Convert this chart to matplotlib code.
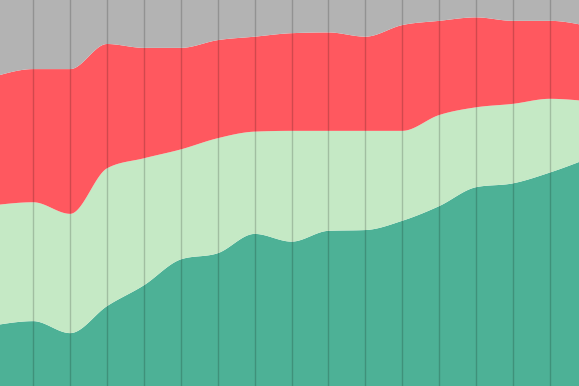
import numpy as np
import matplotlib
matplotlib.use("Agg")
import matplotlib.pyplot as plt

# Data (percent shares, 17 periods)
periods = list(range(17))
series_a = [15.8, 16.8, 13.7, 20.7, 26.1, 32.8, 34.4, 39.4, 37.4, 40.2, 40.4, 42.8, 46.6, 51.5, 52.5, 55.3, 58.8]
series_b = [31.1, 30.8, 30.9, 35.7, 32.9, 28.5, 29.8, 26.5, 28.7, 25.9, 25.7, 23.3, 23.6, 20.7, 20.6, 19.1, 15.0]
series_c = [33.4, 34.5, 37.5, 32.2, 28.6, 26.3, 25.4, 24.6, 25.3, 25.5, 24.4, 27.4, 24.4, 23.3, 21.5, 20.2, 19.5]
series_d = [19.7, 17.9, 17.9, 11.4, 12.4, 12.4, 10.4, 9.5, 8.6, 8.4, 9.5, 6.5, 5.4, 4.5, 5.4, 5.4, 6.7]

colors = ["#4DB196", "#C5E9C5", "#FF585F", "#B3B3B3"]


def monotone(x, y, n=40):
    x = np.asarray(x, float); y = np.asarray(y, float)
    h = np.diff(x); s = np.diff(y) / h
    t = np.zeros_like(y)
    for i in range(1, len(y) - 1):
        s0, s1 = s[i - 1], s[i]
        p = (s0 * h[i] + s1 * h[i - 1]) / (h[i - 1] + h[i])
        t[i] = (np.sign(s0) + np.sign(s1)) * min(abs(s0), abs(s1), 0.5 * abs(p))
    t[0] = (3 * s[0] - t[1]) / 2
    t[-1] = (3 * s[-1] - t[-2]) / 2
    xs, ys = [], []
    for i in range(len(x) - 1):
        u = np.linspace(0, 1, n, endpoint=False)
        h00 = 2 * u**3 - 3 * u**2 + 1
        h10 = u**3 - 2 * u**2 + u
        h01 = -2 * u**3 + 3 * u**2
        h11 = u**3 - u**2
        xs.append(x[i] + u * h[i])
        ys.append(h00 * y[i] + h10 * h[i] * t[i] + h01 * y[i + 1] + h11 * h[i] * t[i + 1])
    xs.append([x[-1]]); ys.append([y[-1]])
    return np.concatenate(xs), np.concatenate(ys)


fig = plt.figure(figsize=(5.79, 3.86), dpi=100)
ax = fig.add_axes([0, 0, 1, 1])

cum = np.zeros(len(periods))
lower_x, lower_y = monotone(periods, cum)
for vals, col in zip([series_a, series_b, series_c, series_d], colors):
    top = cum + np.asarray(vals)
    tx, ty = monotone(periods, top)
    ax.fill_between(tx, lower_y, ty, color=col, linewidth=0, zorder=1)
    cum = top
    lower_y = ty

for k in periods[1:-1]:
    ax.axvline(k, color="black", alpha=0.18, linewidth=1.0, zorder=2)

ax.set_xlim(0.098, 15.79)
ax.set_ylim(0, 100)
ax.axis("off")
fig.savefig("out.png", dpi=100)
